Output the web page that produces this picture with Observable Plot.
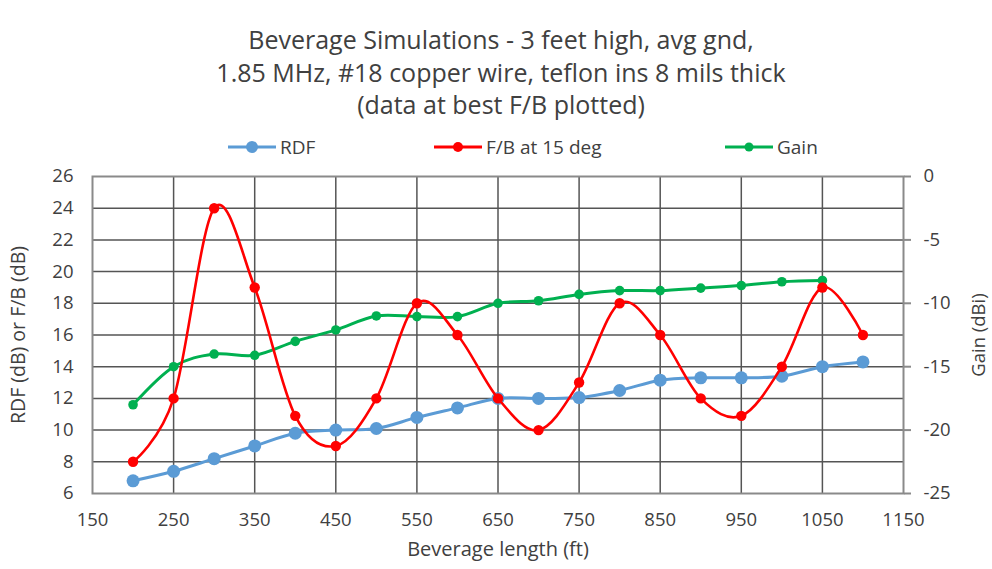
<!DOCTYPE html>
<html>
<head>
<meta charset="utf-8">
<script src="https://cdn.jsdelivr.net/npm/d3@7"></script>
<script src="https://cdn.jsdelivr.net/npm/@observablehq/plot@0.6"></script>
<style>
  html, body { margin: 0; padding: 0; background: #fff; }
  #wrap { position: relative; width: 992px; height: 569px; font-family: "Open Sans", Lato, sans-serif; color: #404040; overflow: hidden; }
  #title { position: absolute; top: 23px; left: 0; width: 1002px; text-align: center; font-size: 25px; line-height: 32.5px; }
  #legend { position: absolute; top: 134px; left: 0; width: 992px; height: 26px; }
  .item { position: absolute; top: 0; display: flex; align-items: center; font-size: 19px; height: 26px; }
  .item svg { margin-right: 4px; }
  #chart { position: absolute; top: 146px; left: 0; }
</style>
</head>
<body>
<div id="wrap">
  <div id="title">Beverage Simulations - 3 feet high, avg gnd,<br>1.85 MHz, #18 copper wire, teflon ins 8 mils thick<br>(data at best F/B plotted)</div>
  <div id="legend"></div>
  <div id="chart"></div>
</div>
<script>
// ---- data ----
const lengths = [200, 250, 300, 350, 400, 450, 500, 550, 600, 650, 700, 750, 800, 850, 900, 950, 1000, 1050, 1100];
const rdf     = [6.8, 7.4, 8.2, 9.0, 9.8, 10.0, 10.1, 10.8, 11.4, 12.0, 12.0, 12.05, 12.5, 13.15, 13.3, 13.3, 13.4, 14.0, 14.3];
const fb      = [8, 12, 24, 19, 10.9, 9, 12, 18, 16, 12, 10, 13, 18, 16, 12, 10.9, 14, 19, 16];
const gainLengths = [200, 250, 300, 350, 400, 450, 500, 550, 600, 650, 700, 750, 800, 850, 900, 950, 1000, 1050];
const gain    = [-18, -15, -14, -14.1, -13, -12.1, -11, -11.05, -11.05, -10, -9.8, -9.3, -9.0, -9.0, -8.8, -8.6, -8.3, -8.2];
const xTicks = [150, 250, 350, 450, 550, 650, 750, 850, 950, 1050, 1150];
const leftTicks = [6, 8, 10, 12, 14, 16, 18, 20, 22, 24, 26];
const rightTicks = [0, -5, -10, -15, -20, -25];
const seriesNames = ["RDF", "F/B at 15 deg", "Gain"];
const seriesColors = ["#5B9BD5", "#FF0000", "#00B050"];
const xLabel = "Beverage length (ft)";
const yLabel = "RDF (dB) or F/B (dB)";
const y2Label = "Gain (dBi)";

// right axis (Gain, dBi: -25..0) mapped onto left axis (6..26)
const gainToLeft = g => 6 + (g + 25) * (20 / 25);
const leftToGain = v => (v - 6) * (25 / 20) - 25;

const rdfData = lengths.map((x, i) => ({x, y: rdf[i]}));
const fbData = lengths.map((x, i) => ({x, y: fb[i]}));
const gainData = gainLengths.map((x, i) => ({x, y: gainToLeft(gain[i])}));

const font = '"Open Sans", Lato, sans-serif';
const chart = Plot.plot({
  width: 992,
  height: 423,
  marginTop: 30,
  marginBottom: 76,
  marginLeft: 92,
  marginRight: 89,
  style: {fontFamily: font, fontSize: "18.5px", color: "#404040", background: "transparent", overflow: "visible"},
  x: {domain: [150, 1150]},
  y: {domain: [6, 26]},
  marks: [
    Plot.gridX(xTicks.slice(1, -1), {stroke: "#555", strokeOpacity: 1, strokeWidth: 1.5}),
    Plot.gridY(leftTicks.slice(1, -1), {stroke: "#555", strokeOpacity: 1, strokeWidth: 1.5}),
    Plot.frame({stroke: "#8a8a8a", strokeWidth: 2}),
    Plot.axisX(xTicks, {tickSize: 0, tickPadding: 19, tickFormat: d => String(d), label: null, fontSize: 18.5}),
    Plot.axisY(leftTicks, {anchor: "left", tickSize: 0, tickPadding: 19, label: null, fontSize: 18.5}),
    Plot.axisY(rightTicks.map(gainToLeft), {anchor: "right", tickSize: 7, tickPadding: 13, stroke: "#8a8a8a", strokeWidth: 2,
      tickFormat: v => String(Math.round(leftToGain(v))), label: null, fontSize: 18.5}),
    Plot.text([xLabel], {frameAnchor: "bottom", dy: 62, fontSize: 20, fill: "#404040", textAnchor: "middle"}),
    Plot.text([yLabel], {frameAnchor: "left", dx: -74, rotate: -90, fontSize: 19.5, fill: "#404040", textAnchor: "middle"}),
    Plot.text([y2Label], {frameAnchor: "right", dx: 76, rotate: -90, fontSize: 18.5, fill: "#404040", textAnchor: "middle"}),
    Plot.line(rdfData, {x: "x", y: "y", stroke: seriesColors[0], strokeWidth: 3, curve: "cardinal"}),
    Plot.dot(rdfData, {x: "x", y: "y", fill: seriesColors[0], r: 6.5}),
    Plot.line(gainData, {x: "x", y: "y", stroke: seriesColors[2], strokeWidth: 3, curve: "cardinal"}),
    Plot.dot(gainData, {x: "x", y: "y", fill: seriesColors[2], r: 4.8}),
    Plot.line(fbData, {x: "x", y: "y", stroke: seriesColors[1], strokeWidth: 2.6, curve: "cardinal"}),
    Plot.dot(fbData, {x: "x", y: "y", fill: seriesColors[1], r: 5.2})
  ]
});
document.getElementById("chart").appendChild(chart);

// legend
const legendX = [228, 434, 725];
const legendR = [6, 5, 4.5];
const legend = document.getElementById("legend");
seriesNames.forEach((name, i) => {
  const d = document.createElement("div");
  d.className = "item";
  d.style.left = legendX[i] + "px";
  d.innerHTML = `<svg width="48" height="14"><line x1="0" y1="7" x2="48" y2="7" stroke="${seriesColors[i]}" stroke-width="3"/><circle cx="24" cy="7" r="${legendR[i]}" fill="${seriesColors[i]}"/></svg><span>${name}</span>`;
  legend.appendChild(d);
});
</script>
</body>
</html>
